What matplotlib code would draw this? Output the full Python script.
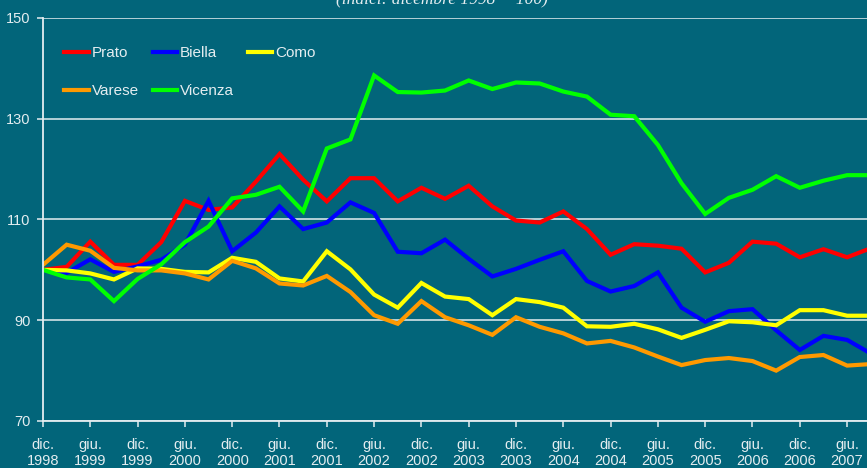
import numpy as np
import matplotlib.pyplot as plt

# quarterly index values, dic. 1998 = 100
prato = [100, 100.6, 105.6, 101.0, 101.0, 105.5, 113.7, 111.9, 112.4, 117.5, 123.0, 117.9,
         113.6, 118.2, 118.2, 113.6, 116.3, 114.1, 116.7, 112.6, 109.8, 109.4, 111.6, 108.1,
         103.0, 105.1, 104.8, 104.2, 99.5, 101.4, 105.6, 105.2, 102.5, 104.1, 102.5, 104.3]
biella = [100, 99.4, 102.1, 99.6, 100.7, 102.0, 105.0, 113.7, 103.7, 107.4, 112.6, 108.1,
          109.4, 113.4, 111.3, 103.6, 103.3, 106.0, 102.2, 98.7, 100.2, 102.0, 103.7, 97.8,
          95.7, 96.8, 99.5, 92.5, 89.7, 91.8, 92.2, 88.0, 84.1, 86.9, 86.1, 83.4]
como = [100, 99.9, 99.3, 98.1, 100.3, 100.2, 99.6, 99.5, 102.4, 101.6, 98.3, 97.7,
        103.7, 100.1, 95.1, 92.5, 97.4, 94.7, 94.2, 91.0, 94.2, 93.6, 92.5, 88.8,
        88.7, 89.3, 88.2, 86.5, 88.1, 89.8, 89.6, 89.0, 92.0, 92.0, 90.9, 90.9]
varese = [101.0, 105.0, 103.8, 100.4, 99.9, 99.9, 99.3, 98.1, 101.8, 100.3, 97.3, 96.9,
          98.8, 95.6, 91.0, 89.3, 93.8, 90.6, 89.0, 87.1, 90.6, 88.7, 87.4, 85.4,
          85.9, 84.6, 82.8, 81.1, 82.1, 82.5, 81.9, 80.0, 82.7, 83.1, 81.0, 81.3]
vicenza = [100, 98.5, 98.1, 93.8, 98.2, 101.1, 105.5, 108.6, 114.2, 114.9, 116.5, 111.6,
           124.1, 125.9, 138.6, 135.3, 135.2, 135.6, 137.6, 135.9, 137.2, 137.0, 135.4, 134.4,
           130.8, 130.5, 124.8, 117.2, 111.1, 114.3, 115.9, 118.6, 116.3, 117.7, 118.8, 118.8]

tick_labels = ['dic.\n1998', 'giu.\n1999', 'dic.\n1999', 'giu.\n2000', 'dic.\n2000',
               'giu.\n2001', 'dic.\n2001', 'giu.\n2002', 'dic.\n2002', 'giu.\n2003',
               'dic.\n2003', 'giu.\n2004', 'dic.\n2004', 'giu.\n2005', 'dic.\n2005',
               'giu.\n2006', 'dic.\n2006', 'giu.\n2007']

bg = '#02657a'
fg = '#e4edf0'

plt.rcParams['font.family'] = ['Liberation Sans', 'DejaVu Sans']

fig = plt.figure(figsize=(8.67, 4.68), dpi=100, facecolor=bg)
ax = fig.add_axes([43 / 867, 1 - 421 / 468, 1 - 43 / 867, (421 - 18) / 468])
ax.set_facecolor(bg)

x = np.arange(len(prato))
series = [('Prato', prato, '#ff0000'), ('Biella', biella, '#0000ff'),
          ('Como', como, '#ffff00'), ('Varese', varese, '#ff9900'),
          ('Vicenza', vicenza, '#00ff00')]
lines = {}
for name, vals, col in series:
    lines[name], = ax.plot(x, vals, color=col, lw=3, label=name, solid_joinstyle='miter')

ax.set_xlim(0, (867 - 43) / 23.65)
ax.set_ylim(70, 150)
ax.set_yticks([70, 90, 110, 130, 150])
ax.set_xticks(np.arange(0, 36, 2))
ax.set_xticklabels(tick_labels)
ax.grid(axis='y', color=fg, lw=1.1)
ax.set_axisbelow(True)

for s in ['top', 'right']:
    ax.spines[s].set_visible(False)
for s in ['left', 'bottom']:
    ax.spines[s].set_color(fg)
    ax.spines[s].set_linewidth(1.3)

ax.tick_params(axis='both', colors=fg, labelcolor=fg, labelsize=10.5, length=4, width=1.1)
ax.tick_params(axis='x', pad=8)
ax.tick_params(axis='y', pad=5)

order = ['Prato', 'Varese', 'Biella', 'Vicenza', 'Como']
leg = ax.legend([lines[n] for n in order], order, ncol=3, loc='upper left',
                bbox_to_anchor=(0.009, 0.965), frameon=False, fontsize=11,
                handlelength=1.6, handletextpad=0.2, columnspacing=0.9,
                labelspacing=1.6)
for t in leg.get_texts():
    t.set_color(fg)

fig.text(442 / 867, 1 - 3 / 468, '(indici: dicembre 1998 = 100)', ha='center',
         va='baseline', color=fg, fontsize=12.5, style='italic',
         family=['Liberation Serif', 'DejaVu Serif'])

fig.savefig('out.png', dpi=100, facecolor=bg)
